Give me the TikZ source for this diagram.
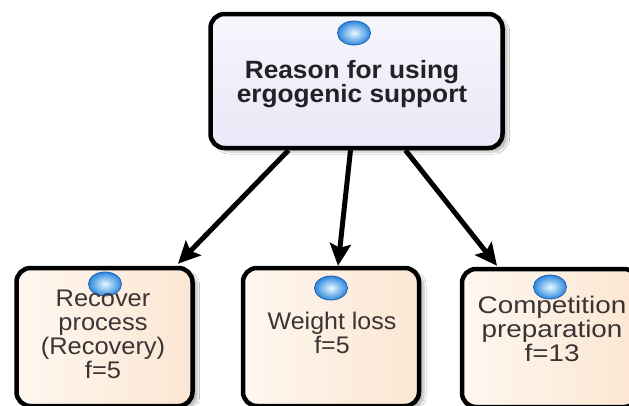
\documentclass[tikz,border=0pt]{standalone}
\usepackage{fontspec}
\setmainfont{Liberation Sans}
\usetikzlibrary{arrows.meta,shapes.geometric,shadows.blur}

\definecolor{ink}{RGB}{34,34,38}
\definecolor{inksoft}{RGB}{58,52,52}
\definecolor{lavtop}{RGB}{246,246,253}
\definecolor{lavbot}{RGB}{232,232,247}
\definecolor{peachlight}{RGB}{255,247,240}
\definecolor{peachdark}{RGB}{251,230,210}
\definecolor{bubin}{RGB}{230,250,255}
\definecolor{bubout}{RGB}{45,135,222}
\definecolor{bubrim}{RGB}{30,95,180}

\tikzset{
  box/.style={draw=black, line width=4.5pt, rounded corners=14pt,
    blur shadow={shadow xshift=5pt, shadow yshift=-4pt, shadow opacity=25, shadow blur steps=6}},
  mainbox/.style={box, top color=lavtop, bottom color=lavbot,
    minimum width=292pt, minimum height=134pt},
  leafbox/.style={box, left color=peachlight, right color=peachdark,
    minimum width=176pt, minimum height=138pt},
  bubble/.style={ellipse, draw=bubrim, line width=0.8pt, inner color=bubin, outer color=bubout,
    minimum width=33pt, minimum height=24pt, inner sep=0pt},
  headtext/.style={text=ink, align=center, font=\bfseries\fontsize{25}{24}\selectfont, inner sep=0pt},
  leaftext/.style={text=inksoft, align=center, font=\fontsize{24}{24}\selectfont, inner sep=0pt},
  link/.style={draw=black, line width=5pt, -{Stealth[length=22pt,width=21pt,inset=4pt]}}
}

\begin{document}
\begin{tikzpicture}[x=1pt,y=-1pt]
  \useasboundingbox (0,0) rectangle (629,405);
  \fill[white] (0,0) rectangle (629,405);

  % boxes
  \node[mainbox] (reason)  at (356.5,81) {};
  \node[leafbox] (recover) at (104.5,337) {};
  \node[leafbox] (weight)  at (331,337) {};
  \node[leafbox] (compet)  at (550,338) {};

  % connectors
  \draw[link] ([xshift=-68pt]reason.south) -- ([xshift=73.5pt,yshift=2pt]recover.north);
  \draw[link] ([xshift=-6pt]reason.south)  -- ([xshift=7pt,yshift=0pt]weight.north);
  \draw[link] ([xshift=49pt]reason.south)  -- ([xshift=-53pt,yshift=1pt]compet.north);

  % status bubbles
  \node[bubble] (breason)  at (354,33) {};
  \node[bubble] (brecover) at (105,284) {};
  \node[bubble] (bweight)  at (331,288) {};
  \node[bubble] (bcompet)  at (550,287) {};

  % labels
  \node[headtext, xscale=1.05] (treason) at (352,84) {Reason for using\\ergogenic support};
  \node[leaftext, xscale=1.06] (trecover) at (103,334) {Recover\\process\\(Recovery)\\f=5};
  \node[leaftext, xscale=1.04] (tweight) at (332,333) {Weight loss\\f=5};
  \node[leaftext, xscale=1.16] (tcompet) at (552,329) {Competition\\preparation\\f=13};
\end{tikzpicture}
\end{document}
